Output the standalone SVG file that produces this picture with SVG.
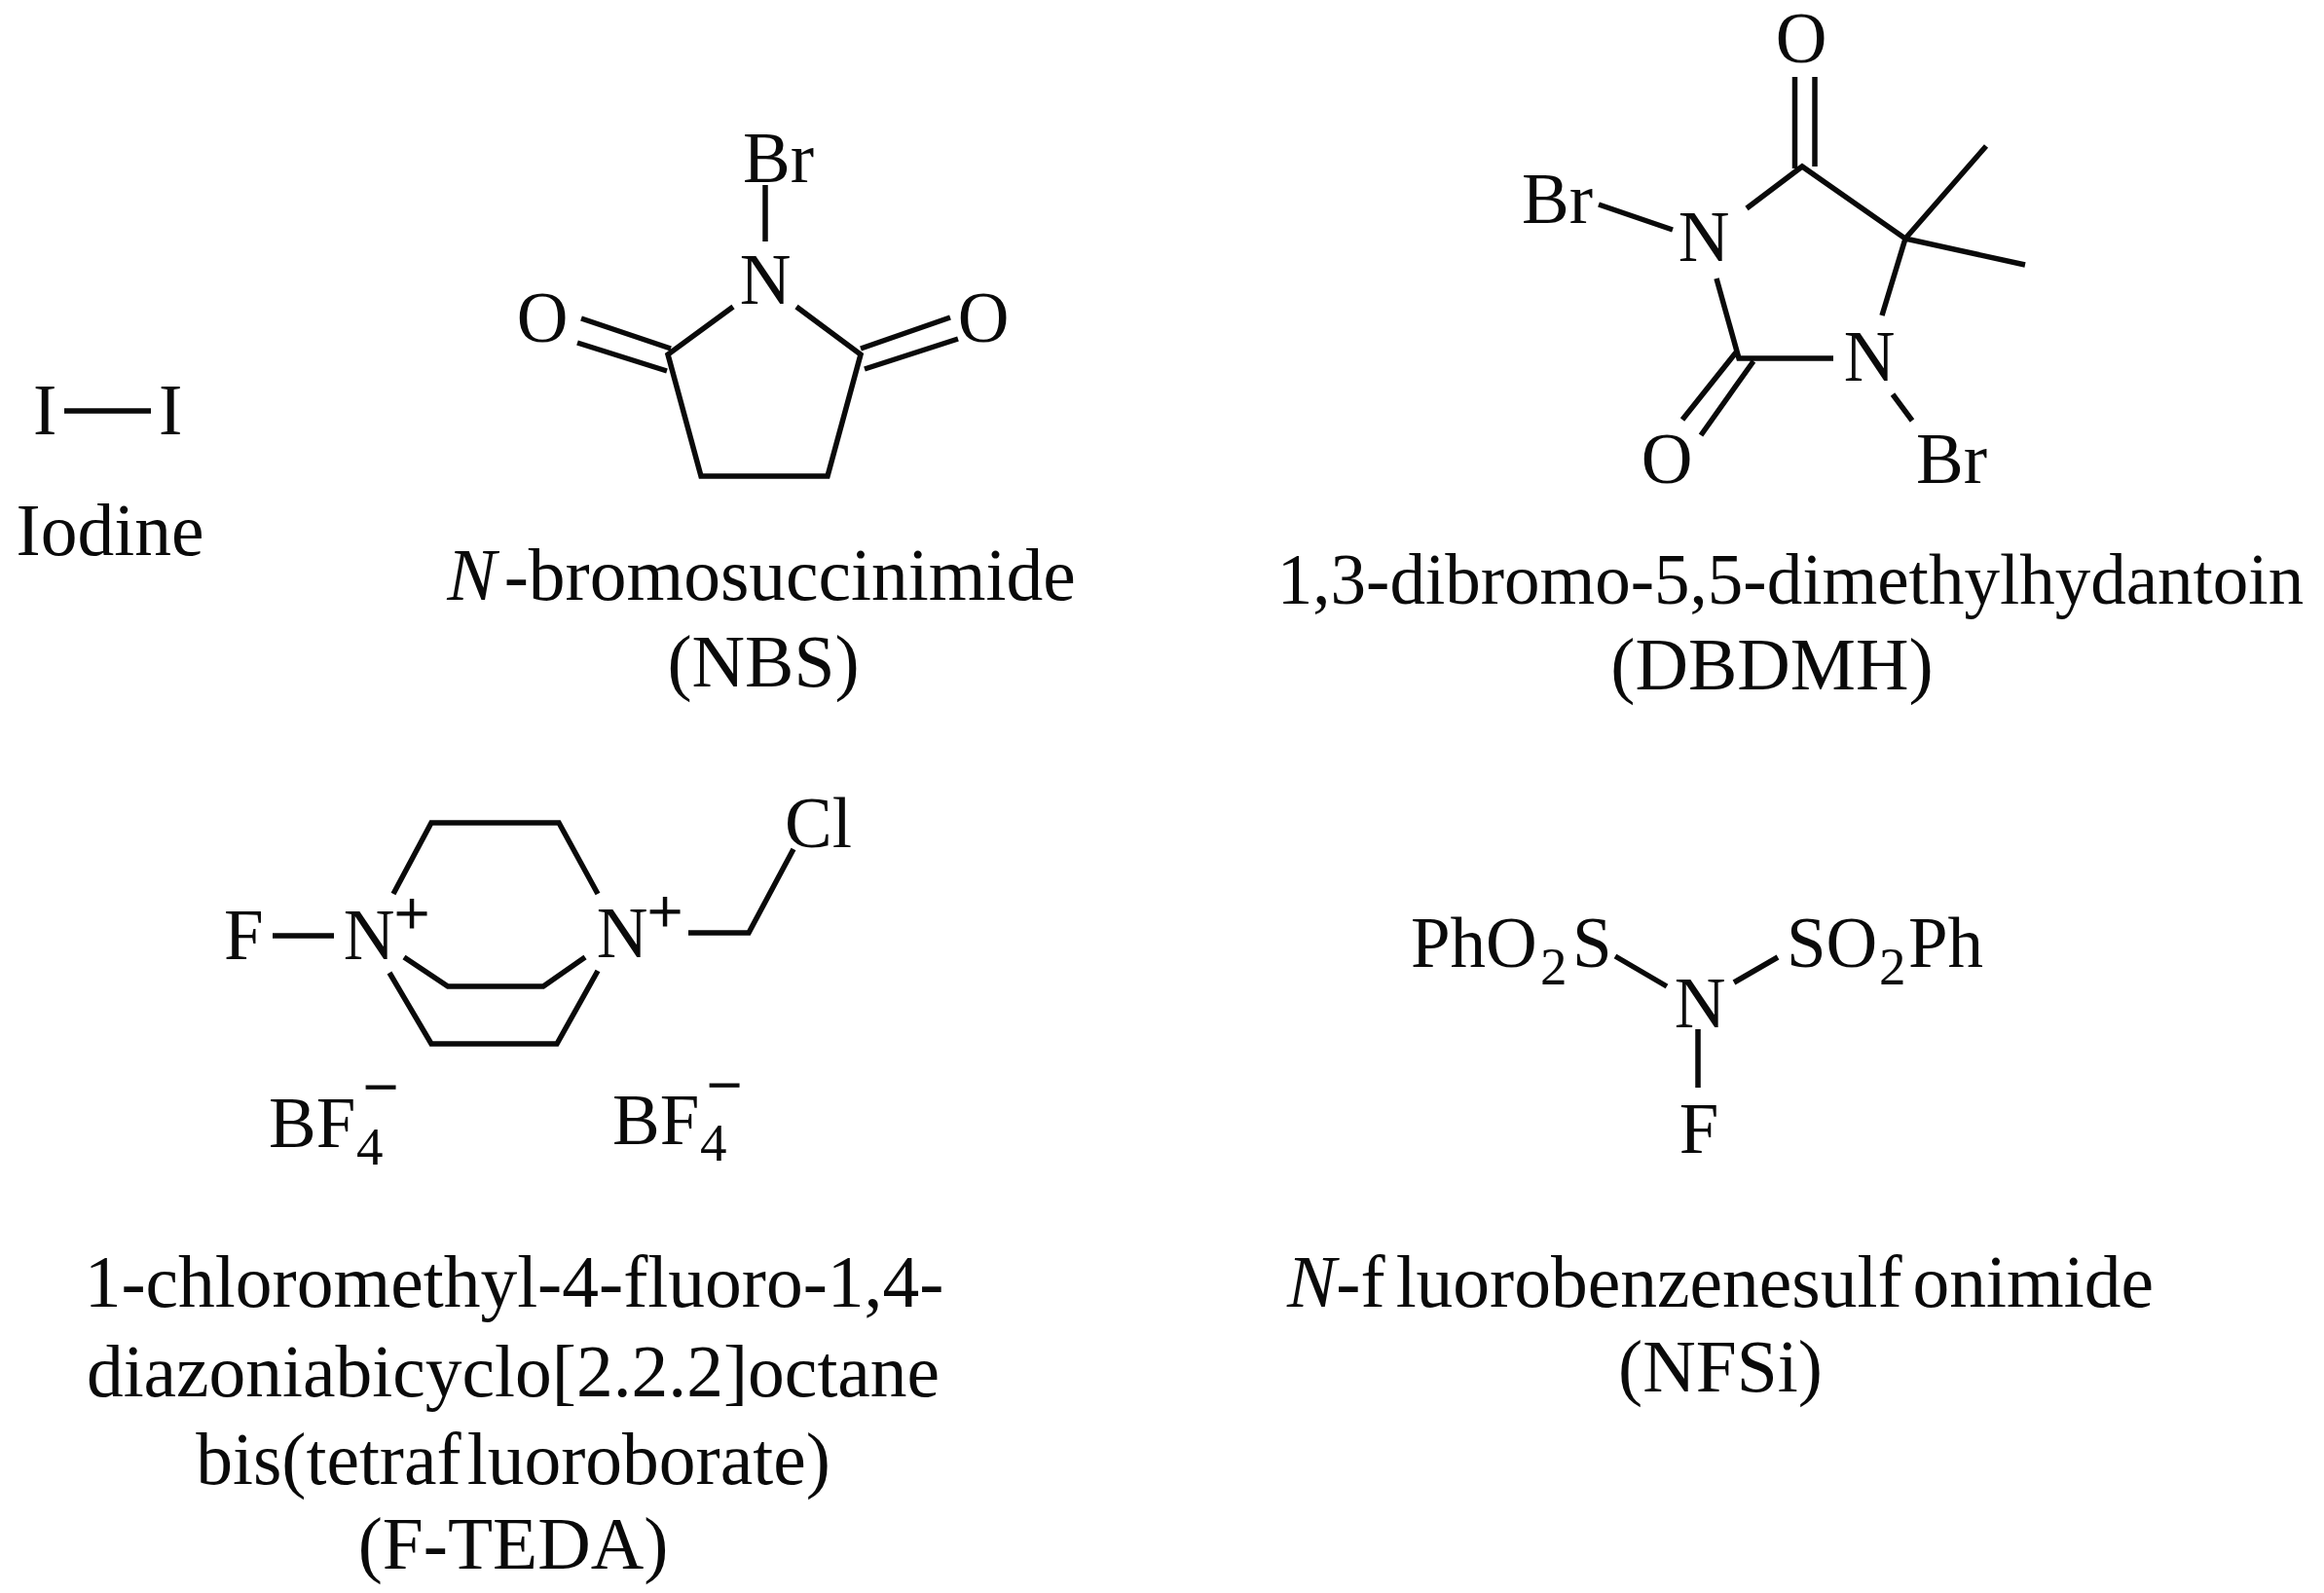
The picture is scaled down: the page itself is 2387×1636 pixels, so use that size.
<svg xmlns="http://www.w3.org/2000/svg" width="2387" height="1636" viewBox="0 0 2387 1636">
<style>
text{font-family:"Liberation Serif","Times New Roman",serif;font-size:73px;fill:#0a0a0a}
.c{text-anchor:middle}
.cap{font-size:75.500px}
.sub{font-size:55px}
.sup{font-size:64px;stroke:#0a0a0a;stroke-width:1.200}
.b{stroke:#0a0a0a;stroke-width:5.500;fill:none;stroke-linecap:butt;stroke-linejoin:miter}
</style>
<rect width="2387" height="1636" fill="#fff"/>
<g id="iodine">
<text x="34" y="446">I</text><text x="163" y="446">I</text>
<text class="c cap" x="113" y="570">Iodine</text>
</g>
<g id="nbs">
<text x="763" y="187">Br</text>
<text class="c" x="786" y="312">N</text>
<text class="c" x="557" y="351">O</text>
<text class="c" x="1010" y="351">O</text>
<text class="c cap" x="782" y="616"><tspan font-style="italic">N</tspan><tspan dx="8">-bromosuccinimide</tspan></text>
<text class="c cap" x="784" y="705">(NBS)</text>
</g>
<g id="dbdmh">
<text class="c" x="1850" y="64">O</text>
<text x="1563" y="229">Br</text>
<text class="c" x="1750" y="268">N</text>
<text class="c" x="1920" y="391">N</text>
<text class="c" x="1712" y="496">O</text>
<text x="1968" y="496">Br</text>
<text class="c" x="1839" y="620">1,3-dibromo-5,5-dimethylhydantoin</text>
<text class="c cap" x="1820" y="708">(DBDMH)</text>
</g>
<g id="f-teda">
<text x="230" y="985">F</text>
<text class="c" x="379" y="985">N</text>
<text class="c sup" x="423" y="960">+</text>
<text class="c" x="639" y="983">N</text>
<text class="c sup" x="683" y="958">+</text>
<text x="806" y="870">Cl</text>
<text x="276" y="1178">BF</text><text class="sub" x="366" y="1196">4</text><text class="c sup" x="391" y="1138">−</text>
<text x="629" y="1175">BF</text><text class="sub" x="719" y="1192">4</text><text class="c sup" x="744" y="1136">−</text>
<text class="c cap" x="528" y="1342">1-chloromethyl-4-fluoro-1,4-</text>
<text class="c cap" x="527" y="1434">diazoniabicyclo[2.2.2]octane</text>
<text class="c cap" x="527" y="1524">bis(tetraf<tspan dx="6">luoroborate)</tspan></text>
<text class="c cap" x="527" y="1611">(F-TEDA)</text>
</g>
<g id="nfsi">
<text x="1449" y="993">PhO</text><text class="sub" x="1582" y="1011">2</text><text x="1615" y="993">S</text>
<text class="c" x="1746" y="1055">N</text>
<text x="1835" y="993">SO</text><text class="sub" x="1930" y="1011">2</text><text x="1960" y="993">Ph</text>
<text class="c" x="1745" y="1184">F</text>
<text class="c cap" x="1767" y="1342"><tspan font-style="italic">N</tspan>-f<tspan dx="11">luorobenzenesulf</tspan><tspan dx="11">onimide</tspan></text>
<text class="c cap" x="1767" y="1429">(NFSi)</text>
</g>
<g id="connectors" class="b">
<path d="M66 422H155"/>
<path d="M786 190V248M753 315L686 364L720 489H850L884 364L818 315M597 327L689 358M593 352L685 381M976 326L884 358M984 348L888 379"/>
<path d="M1843.500 79V173M1864 79V171M1794 214L1851 171L1957 245L1933 324M1957 245L2040 150M1957 245L2080 272M1763 286L1786 368H1883M1642 210L1718 236M1944 405L1964 432M1783 362L1728 431M1801 371L1747 447"/>
<path d="M280 961H343M404 918L443 845H574L614 918M415 983L460 1013H558L601 983M400 999L443 1072H572L614 997M707 958H769L815 872"/>
<path d="M1659 982L1712 1013M1781 1009L1826 983M1744 1057V1117"/>
</g>
</svg>
